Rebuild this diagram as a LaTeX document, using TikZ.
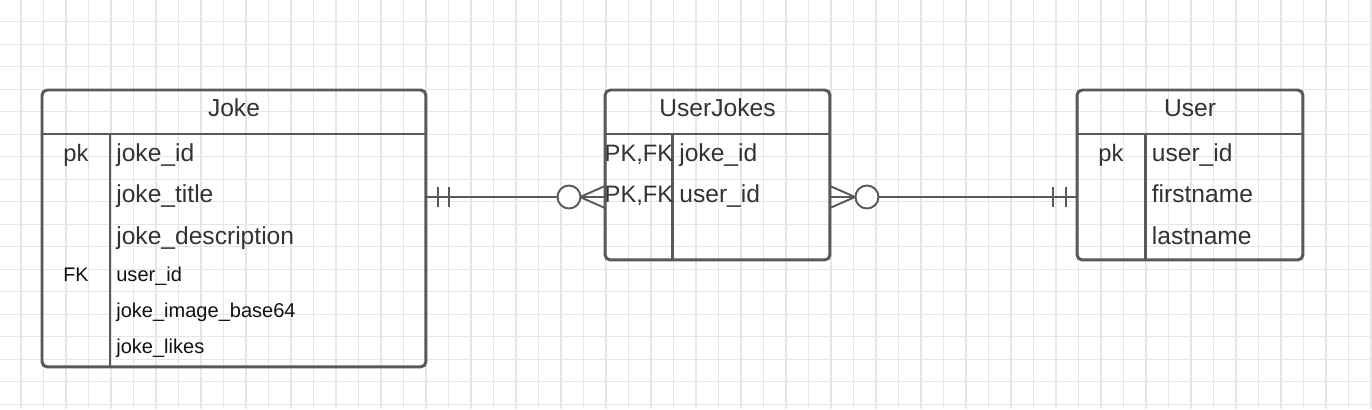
\documentclass[tikz,border=0pt]{standalone}
\usepackage{fontspec}
\setmainfont{Liberation Sans}
\usetikzlibrary{calc,positioning}
\definecolor{erline}{HTML}{595959}
\definecolor{ertext}{HTML}{333333}
\definecolor{ersmall}{HTML}{111111}
\definecolor{ergrid}{HTML}{E6E6E6}

\tikzset{
    entity/.style={draw=erline, line width=1.7pt, rounded corners=3pt, anchor=north west, inner sep=0pt, outer sep=0pt},
    rule/.style={draw=erline, line width=1.7pt},
    conn/.style={draw=erline, line width=1.1pt},
    gridline/.style={draw=ergrid, line width=0.6pt},
    head/.style={font=\fontsize{14}{16}\selectfont, text=ertext, anchor=base, inner sep=0pt},
    key/.style={font=\fontsize{13.5}{16}\selectfont, text=ertext, anchor=base, inner sep=0pt},
    smallkey/.style={font=\fontsize{11.2}{13}\selectfont, text=ersmall, anchor=base, inner sep=0pt},
    field/.style={font=\fontsize{14}{16}\selectfont, text=ertext, anchor=base west, inner sep=0pt},
    smallfield/.style={font=\fontsize{11.4}{13}\selectfont, text=ersmall, anchor=base west, inner sep=0pt}
}

\begin{document}
\begin{tikzpicture}[x=0.02cm, y=-0.02cm]
    % Background grid
    \fill[white] (0,0) rectangle (1372,409);
    \useasboundingbox (0,0) rectangle (1372,409);
    \foreach \i in {0,...,60}
        \draw[gridline] (21+22.5*\i,0) -- ++(0,409);
    \foreach \j in {0,...,17}
        \draw[gridline] (0,21.7+22.5*\j) -- ++(1372,0);

    \begin{scope}[shift={(42,90)}]
        % Joke table
        \node[entity, minimum width=7.68cm, minimum height=5.54cm] (joke) at (0,0) {};
        \draw[rule] (joke.north west) ++(0,44) -- ++(384,0);
        \draw[rule] (joke.north west) ++(68,44) -- ++(0,233);
        \node[head] (jokehead) at (192,26.7) {Joke};
        % Rows
        \node[key] (jokepk) at (34,71) {pk};
        \node[field] (jokeid) at (74,71) {joke\_id};
        \node[field] (joketitle) at (74,112.5) {joke\_title};
        \node[field] (jokedesc) at (74,154) {joke\_description};
        \node[smallkey] (jokefk) at (34,191.5) {FK};
        \node[smallfield] (jokeuser) at (74,191.5) {user\_id};
        \node[smallfield] (jokeimage) at (74,227.5) {joke\_image\_base64};
        \node[smallfield] (jokelikes) at (74,263.5) {joke\_likes};
    \end{scope}

    \begin{scope}[shift={(605,90)}]
        % UserJokes table
        \node[entity, minimum width=4.5cm, minimum height=3.4cm] (ujk) at (0,0) {};
        \draw[rule] (ujk.north west) ++(0,44) -- ++(225,0);
        \draw[rule] (ujk.north west) ++(67.7,44) -- ++(0,126);
        \node[head] (ujkhead) at (112.5,26) {UserJokes};
        % Rows
        \node[key] (ujkpkjoke) at (34,71) {PK,FK};
        \node[field] (ujkjoke) at (74,71) {joke\_id};
        \node[key] (ujkpkuser) at (34,112) {PK,FK};
        \node[field] (ujkuser) at (74,112) {user\_id};
    \end{scope}

    \begin{scope}[shift={(1077,90)}]
        % User table
        \node[entity, minimum width=4.52cm, minimum height=3.4cm] (user) at (0,0) {};
        \draw[rule] (user.north west) ++(0,44) -- ++(226,0);
        \draw[rule] (user.north west) ++(68,44) -- ++(0,126);
        \node[head] (userhead) at (113,26) {User};
        % Rows
        \node[key] (userpk) at (34,71) {pk};
        \node[field] (userid) at (74.5,71) {user\_id};
        \node[field] (userfirst) at (74.5,112.5) {firstname};
        \node[field] (userlast) at (74.5,154) {lastname};
    \end{scope}

    % Relations
    \coordinate (rel) at (0,197);
    % Joke ||--o< UserJokes
    \draw[conn] (joke.east |- rel) -- (ujk.west |- rel);
    \draw[conn] (joke.east |- rel) ++(12,-10) -- ++(0,20);
    \draw[conn] (joke.east |- rel) ++(23,-10) -- ++(0,20);
    \draw[conn] (ujk.west |- rel) ++(-25,0) -- ++(25,-11);
    \draw[conn] (ujk.west |- rel) ++(-25,0) -- ++(25,11);
    \draw[conn, fill=white] (ujk.west |- rel) ++(-36,0) circle[radius=11.5];
    % UserJokes >o--|| User
    \draw[conn] (ujk.east |- rel) -- (user.west |- rel);
    \draw[conn] (ujk.east |- rel) ++(25,0) -- ++(-25,-11);
    \draw[conn] (ujk.east |- rel) ++(25,0) -- ++(-25,11);
    \draw[conn, fill=white] (ujk.east |- rel) ++(37,0) circle[radius=11.5];
    \draw[conn] (user.west |- rel) ++(-24,-10) -- ++(0,20);
    \draw[conn] (user.west |- rel) ++(-11,-10) -- ++(0,20);
\end{tikzpicture}
\end{document}
